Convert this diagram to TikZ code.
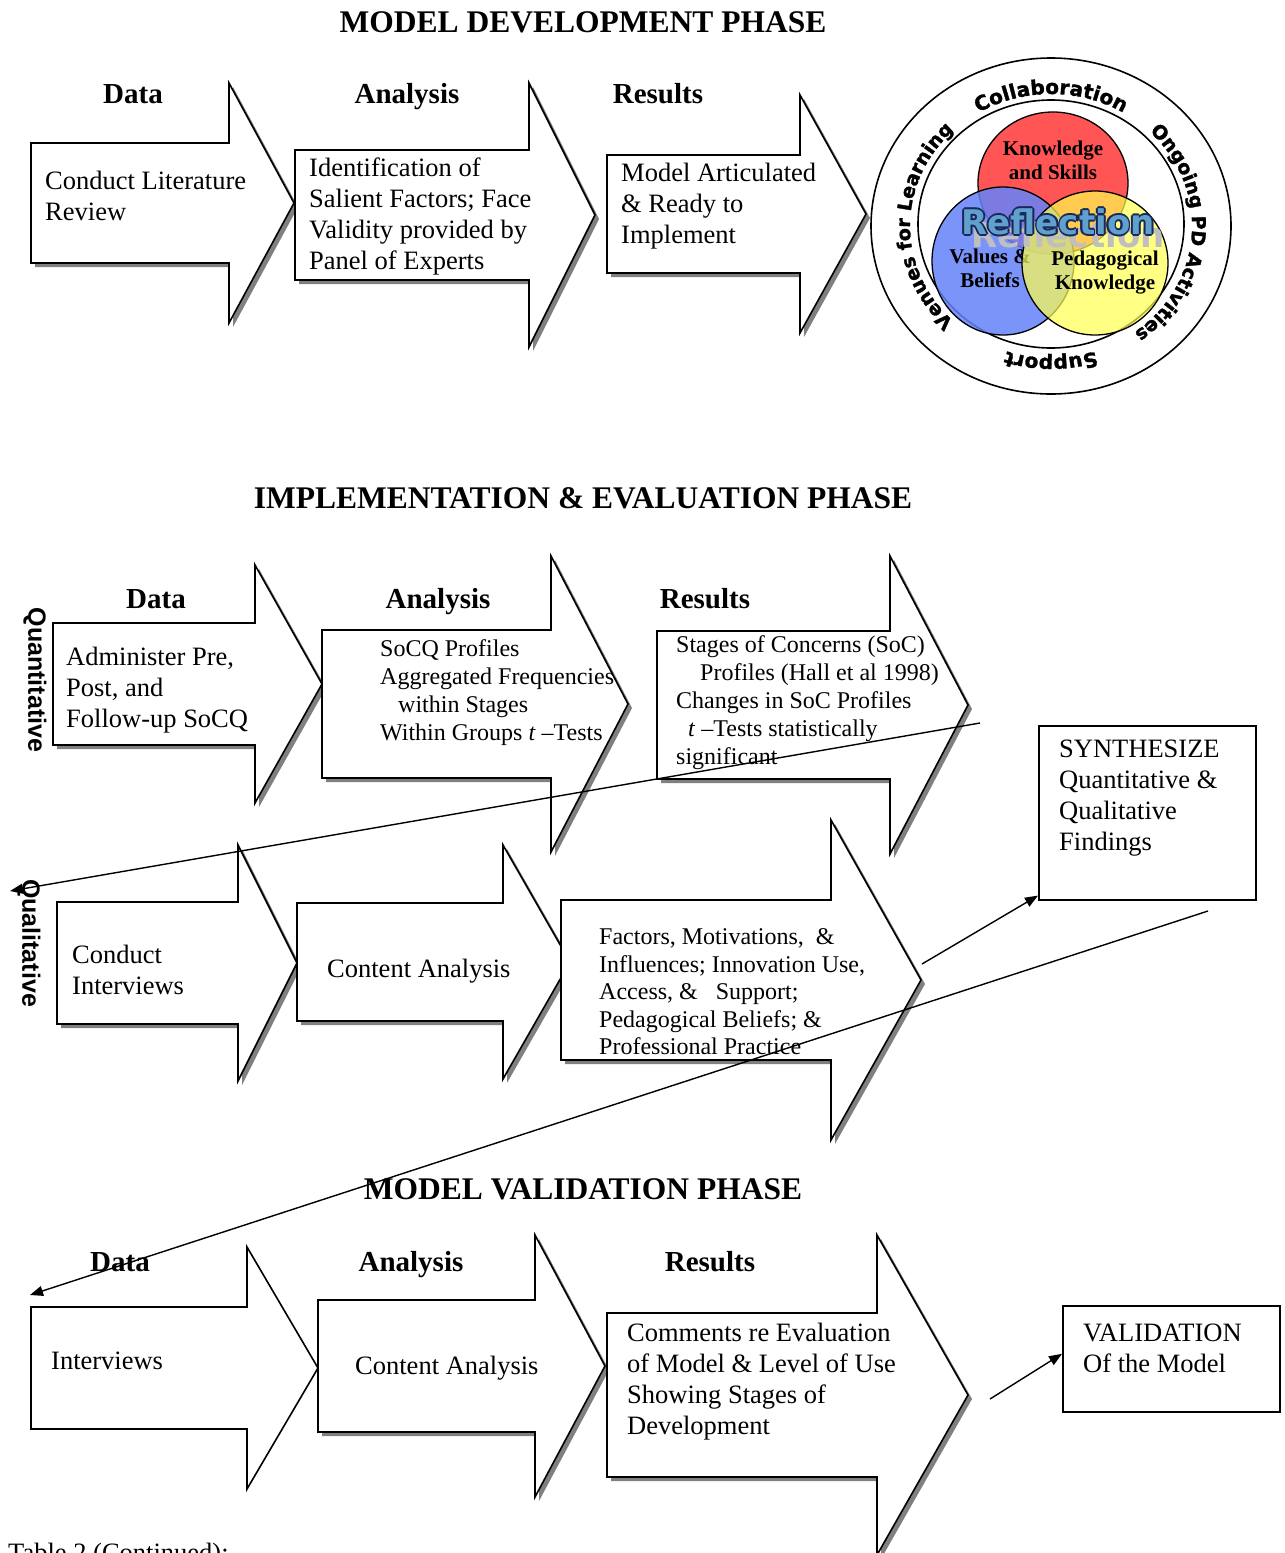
\documentclass[tikz,border=0pt]{standalone}
\usepackage{fontspec}
\setmainfont{Liberation Serif}
\newfontfamily\labsans{Liberation Sans}
\newfontfamily\ringfont{DejaVu Sans}
\newfontfamily\ringheavy{DejaVu Sans}[BoldFeatures={FakeBold=1.5}]
\usetikzlibrary{calc,arrows.meta,decorations.text}
\definecolor{shadowgray}{gray}{0.5}
\definecolor{vred}{RGB}{255,85,85}
\definecolor{vblue}{RGB}{100,130,250}
\definecolor{vyellow}{RGB}{255,255,80}
\definecolor{reflfill}{RGB}{95,160,205}
\definecolor{reflline}{RGB}{25,40,90}
\tikzset{
  arrowshape/.style={draw=black, line width=1.6pt, fill=white, line join=miter},
  sh/.style={fill=shadowgray},
  nosh/.style={},
  bodytext/.style={font=\fontsize{26.5}{31}\selectfont, align=left, anchor=west, inner sep=0pt},
  smalltext/.style={font=\fontsize{24}{28}\selectfont, align=left, anchor=west, inner sep=0pt},
  header/.style={font=\bfseries\fontsize{29}{34}\selectfont, anchor=base, inner sep=0pt},
  phasetitle/.style={font=\bfseries\fontsize{31.5}{36}\selectfont, anchor=base, inner sep=0pt},
  sidelabel/.style={font=\labsans\bfseries\fontsize{25}{25}\selectfont, rotate=-90, inner sep=0pt},
  box/.style={draw=black, line width=1.6pt, fill=white, anchor=north west, inner sep=0pt},
  conn/.style={line width=1.4pt, -{Triangle[length=13pt,width=10pt]}},
  circtext/.style={font=\bfseries\fontsize{21}{24}\selectfont, align=center, inner sep=0pt},
  refltext/.style={font=\ringfont\bfseries\fontsize{34}{34}\selectfont, inner sep=0pt},
}
% #1 left x, #2 centre y, #3 body half height, #4 neck x, #5 head half height, #6 tip x, #7 shadow style
\newcommand\fatarrow[7]{%
  \path[#7, shift={(4,4)}] ({#1},{#2-#3}) -- ({#4},{#2-#3}) -- ({#4},{#2-#5}) -- ({#6},{#2})
     -- ({#4},{#2+#5}) -- ({#4},{#2+#3}) -- ({#1},{#2+#3}) -- cycle;
  \path[arrowshape] ({#1},{#2-#3}) -- ({#4},{#2-#3}) -- ({#4},{#2-#5}) -- ({#6},{#2})
     -- ({#4},{#2+#5}) -- ({#4},{#2+#3}) -- ({#1},{#2+#3}) -- cycle;
}
\begin{document}
\begin{tikzpicture}[x=1pt, y=-1pt]
\useasboundingbox[fill=white] (0,0) rectangle (1285,1553);

% ================= MODEL DEVELOPMENT PHASE =================
\node[phasetitle] (T1) at (583,32) {MODEL DEVELOPMENT PHASE};
\fatarrow{31}{203}{60}{229}{120}{294}{sh}
\fatarrow{295}{215}{65}{529}{132}{595}{sh}
\fatarrow{607}{214}{59}{800}{119}{866}{sh}
\node[header] (h1) at (133,103) {Data};
\node[header] (h2) at (407,103) {Analysis};
\node[header] (h3) at (658,103) {Results};
\node[bodytext] (t1) at (45,196) {Conduct Literature\\Review};
\node[bodytext] (t2) at (309,216) {Identification of\\Salient Factors; Face\\Validity provided by\\Panel of Experts};
\node[bodytext] (t3) at (621,206) {Model Articulated\\\& Ready to\\Implement};

% ---- circle model ----
\begin{scope}[shift={(1051,226)}, y=1pt]
  \draw[line width=1.6pt] (0,0) ellipse [x radius=180, y radius=168];
  \draw[line width=1.6pt] (0,2) ellipse [x radius=133, y radius=124];
  \path[decorate, decoration={text along path, text align=center,
      text={|\ringheavy\bfseries\fontsize{20}{20}\selectfont|Collaboration}}]
      (150:141 and 132) arc[start angle=150, end angle=30, x radius=141, y radius=132];
  \path[decorate, decoration={text along path, text align=center,
      text={|\ringheavy\bfseries\fontsize{19}{19}\selectfont|Ongoing PD Activities}}]
      (80:141 and 132) arc[start angle=80, end angle=-88, x radius=141, y radius=132];
  \path[decorate, decoration={text along path, text align=center,
      text={|\ringheavy\bfseries\fontsize{20}{20}\selectfont|Support}}]
      (-20:141 and 132) arc[start angle=-20, end angle=-160, x radius=141, y radius=132];
  \path[decorate, decoration={text along path, text align=center,
      text={|\ringheavy\bfseries\fontsize{19}{19}\selectfont|Venues for Learning}}]
      (265:141 and 132) arc[start angle=265, end angle=95, x radius=141, y radius=132];
  \draw[line width=1.3pt, fill=vred] (2,43) ellipse [x radius=75, y radius=71];
  \node[circtext] (ks) at (2,66) {Knowledge\\and Skills};
  \draw[line width=1.3pt, fill=vblue, fill opacity=0.85] (-48,-35) ellipse [x radius=71, y radius=74];
  \node[circtext] (vb) at (-61,-42) {Values \&\\Beliefs};
  \draw[line width=1.3pt, fill=vyellow, fill opacity=0.7] (44,-37) ellipse [x radius=73, y radius=72];
  \node[circtext] (pk) at (54,-47) {Pedagogical\\Knowledge};
  \node[refltext, text=black!25] (reflg) at (17,-9) {Reflection};
  \foreach \i/\dx/\dy in {1/1.8/0, 2/-1.8/0, 3/0/1.8, 4/0/-1.8, 5/1.3/1.3, 6/-1.3/1.3, 7/1.3/-1.3, 8/-1.3/-1.3}
    \node[refltext, text=reflline] (reflo\i) at ({7+\dx},{4+\dy}) {Reflection};
  \node[refltext, text=reflfill] (refl) at (7,4) {Reflection};
\end{scope}

% ================= IMPLEMENTATION & EVALUATION PHASE =================
\node[phasetitle] (T2) at (583,508) {IMPLEMENTATION \& EVALUATION PHASE};
\fatarrow{53}{684}{61}{255}{119}{322}{sh}
\fatarrow{322}{704}{74}{551}{148}{628}{sh}
\fatarrow{657}{705}{74}{890}{149}{968}{sh}
\fatarrow{57}{963}{61}{238}{118}{297}{sh}
\fatarrow{297}{962}{59}{503}{117}{570}{sh}
\fatarrow{561}{980}{80}{831}{160}{921}{sh}

\node[header] (h4) at (156,608) {Data};
\node[header] (h5) at (438,608) {Analysis};
\node[header] (h6) at (705,608) {Results};
\node[sidelabel] (quant) at (35,680) {Quantitative};
\node[sidelabel] (qual) at (29,943) {Qualitative};

\node[bodytext] (q1) at (66,690) {Administer Pre,\\Post, and\\Follow-up SoCQ};
\node[smalltext] (q2) at (380,693) {SoCQ Profiles\\Aggregated Frequencies\\\hspace*{18pt}within Stages\\Within Groups \textit{t} –Tests};
\node[smalltext] (q3) at (676,703) {Stages of Concerns (SoC)\\\hspace*{24pt}Profiles (Hall et al 1998)\\Changes in SoC Profiles\\\hspace*{12pt}\textit{t} –Tests statistically\\significant};

\node[bodytext] (l1) at (72,970) {Conduct\\Interviews};
\node[bodytext] (l2) at (327,971) {Content Analysis};
\node[font=\fontsize{24}{27.5}\selectfont, align=left, anchor=west, inner sep=0pt] (l3) at (599,992)
  {Factors, Motivations,\ \ \&\\Influences; Innovation Use,\\Access, \&\ \ \ Support;\\Pedagogical Beliefs; \&\\Professional Practice};

\node[box, minimum width=217pt, minimum height=174pt] (syn) at (1038,725) {};
\node[bodytext] (syntext) at (1059,798) {SYNTHESIZE\\Quantitative \&\\Qualitative\\Findings};

% ================= MODEL VALIDATION PHASE =================
\node[phasetitle] (T3) at (583,1199) {MODEL VALIDATION PHASE};
\fatarrow{31}{1368}{61}{247}{121}{318}{nosh}
\fatarrow{318}{1366}{66}{535}{131}{605}{sh}
\fatarrow{607}{1395}{82}{877}{160}{968}{sh}
\node[header] (h7) at (120,1271) {Data};
\node[header] (h8) at (411,1271) {Analysis};
\node[header] (h9) at (710,1271) {Results};
\node[bodytext] (v1) at (51,1361) {Interviews};
\node[bodytext] (v2) at (355,1368) {Content Analysis};
\node[bodytext] (v3) at (627,1382) {Comments re Evaluation\\of Model \& Level of Use\\Showing Stages of\\Development};

\node[box, minimum width=217pt, minimum height=106pt] (val) at (1062,1305) {};
\node[bodytext] (valtext) at (1083,1348) {VALIDATION\\Of the Model};

\node[bodytext, anchor=base west] (tab) at (8,1561) {Table 2 (Continued):};

% ================= connectors =================
\coordinate (c1s) at (980,723);
\coordinate (c1e) at (10,891);
\draw[conn] (c1s) -- (c1e);
\coordinate (c2s) at (1208,911);
\coordinate (c2e) at (30,1295);
\draw[conn] (c2s) -- (c2e);
\coordinate (c3s) at (922,964);
\draw[conn] (c3s) -- ([yshift=5pt]syn.south west);
\coordinate (c4s) at (990,1399);
\draw[conn] (c4s) -- ([yshift=5pt]val.west);
\end{tikzpicture}
\end{document}
